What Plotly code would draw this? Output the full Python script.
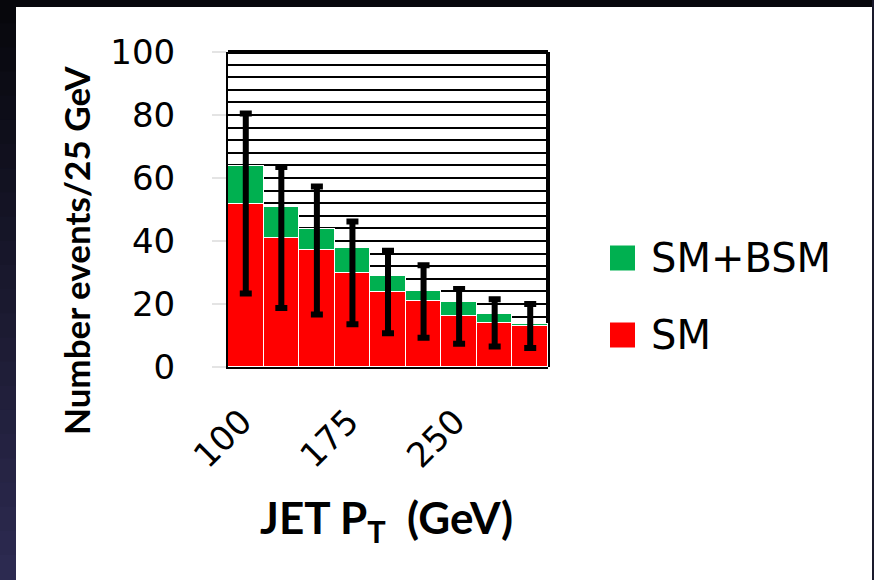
import plotly.graph_objects as go

# ---- data ----
bins = [100, 125, 150, 175, 200, 225, 250, 275, 300]          # JET PT bin (GeV)
sm = [51.9, 41.1, 37.0, 29.9, 23.8, 20.8, 16.1, 14.0, 13.0]    # SM
bsm_extra = [11.9, 9.7, 6.7, 8.0, 5.1, 3.2, 4.5, 2.9, 0.8]     # SM+BSM excess on top of SM
sm_err = [28.6, 22.4, 20.3, 16.3, 13.1, 11.5, 8.7, 7.5, 7.0]   # error bar half-lengths (around SM)
xtick_vals = [100, 175, 250]
xtick_text = ["100", "175", "250"]
ytick_vals = [0, 20, 40, 60, 80, 100]
ytick_text = ["0", "20", "40", "60", "80", "100"]
legend_labels = ["SM+BSM", "SM"]

RED = "#FF0000"
GREEN = "#00B050"

W, H = 874, 580
ML, MR, MT, MB = 228, 326, 52, 213
PW, PH = W - ML - MR, H - MT - MB


def px(xp):
    return (xp - ML) / PW


def py(yp):
    return 1 - (yp - MT) / PH


fig = go.Figure()
fig.add_trace(go.Bar(x=bins, y=sm, name="SM", marker=dict(color=RED, line=dict(color="white", width=1.5)),
                     width=25, showlegend=False))
fig.add_trace(go.Bar(x=bins, y=bsm_extra, name="SM+BSM",
                     marker=dict(color=GREEN, line=dict(color="white", width=1.5)),
                     width=25, showlegend=False))
fig.add_trace(go.Scatter(x=bins, y=sm, mode="markers", marker=dict(size=1, color="rgba(0,0,0,0)"),
                         error_y=dict(type="data", array=sm_err, visible=True, color="black",
                                      thickness=6, width=6),
                         showlegend=False, hoverinfo="skip"))

shapes = []
# frame of the plot (top + right thick borders, drawn below the bars)
shapes.append(dict(type="line", xref="paper", yref="paper", x0=0, x1=1, y0=1, y1=1,
                   line=dict(color="black", width=4), layer="below"))
shapes.append(dict(type="line", xref="paper", yref="paper", x0=1, x1=1, y0=0, y1=1,
                   line=dict(color="black", width=4), layer="below"))

# dark slide frame
shapes.append(dict(type="rect", xref="paper", yref="paper", x0=px(0), x1=px(W), y0=py(-2), y1=py(7),
                   fillcolor="#07070c", line=dict(width=0), layer="above"))
shapes.append(dict(type="rect", xref="paper", yref="paper", x0=px(872), x1=px(W + 2), y0=py(-2), y1=py(H + 2),
                   fillcolor="#1a1a2c", line=dict(width=0), layer="above"))
nb = 24
c0 = (7, 7, 12)
c1 = (44, 42, 80)
for i in range(nb):
    t = i / (nb - 1)
    col = tuple(int(round(c0[k] + (c1[k] - c0[k]) * t)) for k in range(3))
    y0p = i * H / nb - 1
    y1p = (i + 1) * H / nb + 1
    shapes.append(dict(type="rect", xref="paper", yref="paper", x0=px(-2), x1=px(16),
                       y0=py(y1p), y1=py(y0p),
                       fillcolor="rgb(%d,%d,%d)" % col, line=dict(width=0), layer="above"))

# custom legend
leg_y = [258, 335]
leg_cols = [GREEN, RED]
annotations = []
for lab, yy, cc in zip(legend_labels, leg_y, leg_cols):
    shapes.append(dict(type="rect", xref="paper", yref="paper", x0=px(610), x1=px(635),
                       y0=py(yy + 12.5), y1=py(yy - 12.5), fillcolor=cc, line=dict(width=0)))
    annotations.append(dict(xref="paper", yref="paper", x=px(649), y=py(yy), text=lab,
                            showarrow=False, xanchor="left", yanchor="middle",
                            font=dict(family="DejaVu Sans", size=40, color="black")))

# axis titles
annotations.append(dict(xref="paper", yref="paper", x=px(76), y=py(251), text="Number events/25 GeV",
                        textangle=-90, showarrow=False, xanchor="center", yanchor="middle",
                        font=dict(family="Lato", size=35, color="black", weight="bold")))
annotations.append(dict(xref="paper", yref="paper", x=px(386), y=py(520),
                        text="JET P<sub>T</sub> &nbsp;(GeV)",
                        showarrow=False, xanchor="center", yanchor="middle",
                        font=dict(family="Lato", size=44, color="black", weight="bold")))

fig.update_layout(
    width=W, height=H,
    margin=dict(l=ML, r=MR, t=MT, b=MB),
    paper_bgcolor="white",
    plot_bgcolor="rgba(0,0,0,0)",
    barmode="stack",
    bargap=0,
    showlegend=False,
    shapes=shapes,
    annotations=annotations,
    xaxis=dict(range=[87.5, 312.5], tickmode="array", tickvals=xtick_vals, ticktext=xtick_text,
               tickangle=-45, showgrid=False, zeroline=False, showline=True, linecolor="black",
               linewidth=2, ticks="", ticklabelstandoff=19, ticklabelshift=-4,
               tickfont=dict(family="DejaVu Sans", size=34, color="black")),
    yaxis=dict(range=[0, 100], tickmode="array", tickvals=ytick_vals, ticktext=ytick_text,
               showgrid=True, gridcolor="black", gridwidth=2, zeroline=False,
               showline=True, linecolor="black", linewidth=2,
               ticks="outside", ticklen=14, tickcolor="#e4e4e4", tickwidth=1.5,
               ticklabelstandoff=30,
               minor=dict(dtick=4, tick0=0, showgrid=True, gridcolor="black", gridwidth=2),
               tickfont=dict(family="DejaVu Sans", size=34, color="black")),
)

fig.write_html("out.html", config={"displayModeBar": False},
               post_script="document.body.style.margin='0px';")
